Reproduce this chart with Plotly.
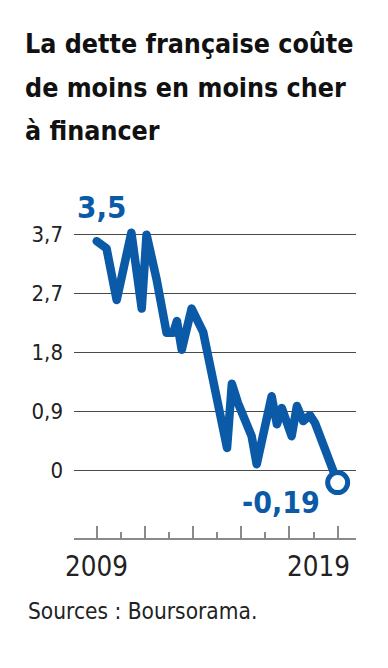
import plotly.graph_objects as go

# ---- data ----
years = [2009.00, 2009.41, 2009.83, 2010.44, 2010.87, 2011.07, 2011.49, 2011.90,
         2012.18, 2012.33, 2012.53, 2012.94, 2013.42, 2014.41, 2014.61, 2014.86,
         2015.43, 2015.64, 2016.26, 2016.48, 2016.68, 2017.09, 2017.31, 2017.57,
         2017.85, 2018.06, 2019.00]
rates = [3.50, 3.39, 2.60, 3.63, 2.47, 3.60, 2.91, 2.10,
         2.10, 2.28, 1.84, 2.47, 2.11, 0.34, 1.32, 1.03,
         0.52, 0.09, 1.13, 0.70, 0.95, 0.52, 0.98, 0.75,
         0.84, 0.72, -0.19]
y_tick_vals = [0, 0.9, 1.8, 2.7, 3.6]
y_tick_text = ["0", "0,9", "1,8", "2,7", "3,7"]
x_major_ticks = [2009, 2011, 2013, 2015, 2017, 2019]
x_minor_ticks = [2010, 2012, 2014, 2016, 2018]
x_labels = ["2009", "2019"]
first_label = "3,5"
last_label = "-0,19"
title_lines = ["La dette française coûte", "de moins en moins cher", "à financer"]
source_text = "Sources : Boursorama."

BLUE = "#0B5AA8"
NARROW = "Liberation Sans Narrow, DejaVu Sans Condensed, sans-serif"

W, H = 388, 668
L, R, T, B = 74, 32, 215.4, 130.3
PW, PH = W - L - R, H - T - B


def fx(px):
    return (px - L) / PW


def fy(py):
    return (H - B - py) / PH


fig = go.Figure()
fig.add_trace(go.Scatter(x=years, y=rates, mode="lines",
                         line=dict(color=BLUE, width=8.5), hoverinfo="skip"))
fig.add_trace(go.Scatter(x=[years[-1]], y=[rates[-1]], mode="markers",
                         marker=dict(size=20, color="white",
                                     line=dict(color=BLUE, width=5)),
                         hoverinfo="skip"))

ann = []
for i, (line, base) in enumerate(zip(title_lines, [53, 97, 140])):
    ann.append(dict(text=line, x=fx(23), y=fy(base - 9), xref="paper", yref="paper",
                    xanchor="left", yanchor="middle", showarrow=False,
                    font=dict(family=NARROW, size=26.6, color="#111111", weight="bold")))
ann.append(dict(text=first_label, x=fx(101), y=fy(207), xref="paper", yref="paper",
                xanchor="center", yanchor="middle", showarrow=False,
                font=dict(family=NARROW, size=31, color=BLUE, weight="bold")))
ann.append(dict(text=last_label, x=fx(281), y=fy(502), xref="paper", yref="paper",
                xanchor="center", yanchor="middle", showarrow=False,
                font=dict(family=NARROW, size=30, color=BLUE, weight="bold")))
for lab, cx in zip(x_labels, [96.5, 318]):
    ann.append(dict(text=lab, x=fx(cx), y=fy(566), xref="paper", yref="paper",
                    xanchor="center", yanchor="middle", showarrow=False,
                    font=dict(family=NARROW, size=27.5, color="#222222")))
ann.append(dict(text=source_text, x=fx(26), y=fy(611), xref="paper", yref="paper",
                xanchor="left", yanchor="middle", showarrow=False,
                font=dict(family=NARROW, size=22.5, color="#222222")))

fig.update_layout(
    width=W, height=H, autosize=False,
    margin=dict(l=L, r=R, t=T, b=B, pad=0),
    paper_bgcolor="white", plot_bgcolor="white",
    showlegend=False,
    annotations=ann,
    xaxis=dict(range=[2008.06, 2019.76], showgrid=False, zeroline=False,
               showline=True, linecolor="#8a8a8a", linewidth=2,
               ticks="inside", tickvals=x_major_ticks, ticklen=12,
               tickcolor="#8a8a8a", tickwidth=1.5, showticklabels=False,
               minor=dict(tickvals=x_minor_ticks, ticks="inside", ticklen=6,
                          tickcolor="#8a8a8a", tickwidth=1.5, showgrid=False),
               fixedrange=True),
    yaxis=dict(range=[-1.037, 3.9], showgrid=True, gridcolor="#4a4a4a", gridwidth=1,
               zeroline=False, showline=False, ticks="",
               tickvals=y_tick_vals, ticktext=y_tick_text,
               tickfont=dict(family=NARROW, size=22, color="#222222"),
               ticklabelstandoff=10, fixedrange=True),
)

post = """
document.body.style.margin='0';
document.querySelectorAll('.scatterlayer .js-line').forEach(function(p){
  p.style.strokeLinejoin='round'; p.style.strokeLinecap='round';
});
"""
fig.write_html("out.html", config={"displayModeBar": False}, post_script=post)
